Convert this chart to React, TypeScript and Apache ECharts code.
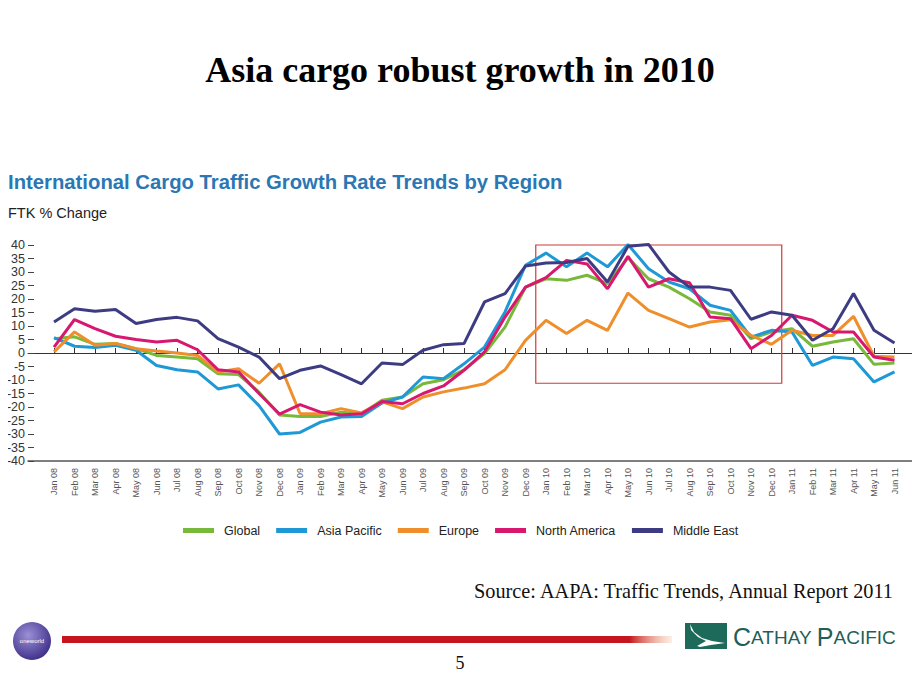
import React, { useEffect, useRef } from "react";
import * as echarts from "echarts";

const months = [
  "Jan 08", "Feb 08", "Mar 08", "Apr 08", "May 08", "Jun 08", "Jul 08", "Aug 08", "Sep 08", "Oct 08", "Nov 08", "Dec 08",
  "Jan 09", "Feb 09", "Mar 09", "Apr 09", "May 09", "Jun 09", "Jul 09", "Aug 09", "Sep 09", "Oct 09", "Nov 09", "Dec 09",
  "Jan 10", "Feb 10", "Mar 10", "Apr 10", "May 10", "Jun 10", "Jul 10", "Aug 10", "Sep 10", "Oct 10", "Nov 10", "Dec 10",
  "Jan 11", "Feb 11", "Mar 11", "Apr 11", "May 11", "Jun 11",
];

const globalValues = [
  5.3, 6.0, 3.2, 3.5, 1.6, -0.9, -1.5, -2.1, -7.7, -8.0, -14.5, -23.0,
  -23.5, -23.5, -21.9, -22.5, -17.5, -16.3, -11.4, -9.9, -6.2, -0.2, 9.6, 24.4,
  27.5, 26.9, 28.8, 25.7, 35.3, 27.5, 24.4, 20.1, 15.2, 14.0, 5.3, 7.8,
  9.0, 2.5, 4.1, 5.3, -4.2, -3.7,
];
const asiaPacific = [
  5.7, 2.5, 2.0, 2.9, 1.0, -4.6, -6.2, -7.0, -13.3, -11.8, -19.5, -30.0,
  -29.4, -25.6, -23.7, -23.5, -18.5, -16.3, -8.9, -9.5, -4.0, 2.2, 15.2, 32.5,
  37.0, 31.9, 37.0, 31.9, 40.2, 31.2, 26.3, 23.8, 17.7, 15.8, 5.9, 8.4,
  7.8, -4.6, -1.5, -2.1, -10.7, -7.0,
];
const europe = [
  0.4, 7.8, 2.9, 3.5, 1.6, 0.7, 0.0, -0.9, -7.0, -5.8, -11.2, -4.0,
  -22.4, -22.5, -20.6, -22.2, -18.1, -20.6, -16.3, -14.4, -13.0, -11.4, -6.2, 4.7,
  12.1, 7.2, 12.1, 8.4, 22.2, 15.8, 12.7, 9.6, 11.5, 12.3, 6.5, 3.2,
  8.4, 6.5, 6.5, 13.6, -1.2, -1.5,
];
const northAmerica = [
  2.2, 12.4, 9.0, 6.2, 5.0, 4.1, 4.7, 1.2, -6.2, -7.0, -15.0, -22.6,
  -19.1, -21.9, -23.0, -22.5, -18.0, -18.8, -15.0, -12.2, -6.4, 0.4, 13.3, 24.4,
  27.9, 34.3, 33.0, 23.8, 35.8, 24.4, 27.5, 26.0, 13.3, 12.7, 1.6, 6.5,
  14.0, 12.1, 7.8, 7.8, -1.5, -2.7,
];
const middleEast = [
  11.5, 16.4, 15.5, 16.1, 10.9, 12.4, 13.2, 11.9, 5.3, 2.2, -1.5, -9.5,
  -6.4, -4.8, -8.0, -11.4, -3.7, -4.3, 1.0, 3.1, 3.5, 18.9, 22.0, 32.2,
  33.3, 33.5, 35.0, 26.3, 39.5, 40.2, 30.0, 24.4, 24.4, 23.2, 12.5, 15.2,
  14.0, 4.7, 9.0, 22.0, 8.4, 3.7,
];

const seriesNames = ["Global", "Asia Pacific", "Europe", "North America", "Middle East"];
const seriesColors = ["#78b83a", "#1f98d6", "#ee8f2c", "#d8186f", "#3d3c82"];
const seriesValues = [globalValues, asiaPacific, europe, northAmerica, middleEast];

// highlighted year 2010 (month index range and value range of the red frame)
const highlightMonths = [23.5, 35.5];
const highlightValues = [45.5, -11.2];

const yTicks = { min: -40, max: 40, step: 5 };

const SANS = "'Liberation Sans', Arial, Helvetica, sans-serif";
const SERIF = "'Liberation Serif', 'Times New Roman', serif";

export default function App() {
  const ref = useRef<HTMLDivElement>(null);

  useEffect(() => {
    if (!ref.current) return;
    const chart = echarts.init(ref.current, null, { renderer: "svg" });
    const idx = months.map((_, i) => i);

    const series: any[] = seriesNames.map((name, k) => ({
      type: "line",
      name,
      data: seriesValues[k].map((v, i) => [i, v]),
      xAxisIndex: 0,
      symbol: "none",
      silent: true,
      clip: false,
      lineStyle: { width: 3, color: seriesColors[k] },
      itemStyle: { color: seriesColors[k] },
      emphasis: { disabled: true },
      z: 3 + k,
    }));
    series[0].markArea = {
      silent: true,
      itemStyle: { color: "rgba(0,0,0,0)", borderColor: "#d03a3a", borderWidth: 1.2 },
      data: [
        [
          { xAxis: highlightMonths[0], yAxis: highlightValues[0] },
          { xAxis: highlightMonths[1], yAxis: highlightValues[1] },
        ],
      ],
    };

    const option: any = {
      animation: false,
      backgroundColor: "#ffffff",
      grid: { left: 28, right: 5, top: 245, bottom: 229, containLabel: false },
      xAxis: [
        {
          type: "value",
          min: -1.27,
          max: 42,
          position: "bottom",
          axisLine: { onZero: false, lineStyle: { color: "#555", width: 1.5 } },
          axisTick: { show: false },
          splitLine: { show: false },
          axisLabel: {
            customValues: idx,
            formatter: (v: number) => months[Math.round(v)] ?? "",
            rotate: 90,
            fontSize: 9,
            color: "#555",
            margin: 7,
            fontFamily: SANS,
          },
        },
        {
          type: "value",
          min: -1.27,
          max: 42,
          position: "bottom",
          axisLine: { onZero: true, lineStyle: { color: "#333", width: 1 } },
          axisTick: { show: true, inside: true, length: 5, customValues: idx, lineStyle: { color: "#333" } },
          axisLabel: { show: false },
          splitLine: { show: false },
        },
      ],
      yAxis: {
        type: "value",
        min: yTicks.min,
        max: yTicks.max,
        interval: yTicks.step,
        position: "left",
        axisLine: { show: false, onZero: false },
        axisTick: { show: true, inside: true, length: 6, lineStyle: { color: "#444" } },
        axisLabel: { fontSize: 12.5, color: "#333", margin: 3, fontFamily: SANS },
        splitLine: { show: false },
      },
      legend: {
        data: seriesNames,
        left: 183,
        top: 524,
        padding: 0,
        icon: "rect",
        itemWidth: 31,
        itemHeight: 5,
        itemGap: 16,
        textStyle: { fontSize: 12.5, color: "#222", fontFamily: SANS, padding: [0, 0, 0, 5] },
      },
      graphic: [
        {
          type: "text",
          x: 460,
          y: 70,
          style: {
            text: "Asia cargo robust growth in 2010",
            font: `bold 36px ${SERIF}`,
            fill: "#000",
            align: "center",
            verticalAlign: "middle",
            textAlign: "center",
            textVerticalAlign: "middle",
          },
        },
        {
          type: "text",
          x: 8,
          y: 182,
          style: {
            text: "International Cargo Traffic Growth Rate Trends by Region",
            font: `bold 20.3px ${SANS}`,
            fill: "#2a77b4",
            align: "left",
            verticalAlign: "middle",
            textAlign: "left",
            textVerticalAlign: "middle",
          },
        },
        {
          type: "text",
          x: 8,
          y: 213,
          style: {
            text: "FTK % Change",
            font: `14.5px ${SANS}`,
            fill: "#222",
            align: "left",
            verticalAlign: "middle",
            textAlign: "left",
            textVerticalAlign: "middle",
          },
        },
        {
          type: "text",
          x: 893,
          y: 591,
          style: {
            text: "Source: AAPA: Traffic Trends, Annual Report 2011",
            font: `20.3px ${SERIF}`,
            fill: "#111",
            align: "right",
            verticalAlign: "middle",
            textAlign: "right",
            textVerticalAlign: "middle",
          },
        },
        // footer red bar
        {
          type: "rect",
          shape: { x: 62, y: 636, width: 610, height: 7 },
          style: {
            fill: {
              type: "linear",
              x: 0, y: 0, x2: 1, y2: 0,
              colorStops: [
                { offset: 0, color: "#c4161c" },
                { offset: 0.93, color: "#c4161c" },
                { offset: 1, color: "rgba(240,170,120,0.2)" },
              ],
            },
          },
        },
        // oneworld logo
        {
          type: "circle",
          shape: { cx: 32, cy: 641, r: 19 },
          style: {
            fill: {
              type: "radial",
              x: 0.4, y: 0.35, r: 0.7,
              colorStops: [
                { offset: 0, color: "#9c90d6" },
                { offset: 1, color: "#3b2c86" },
              ],
            },
          },
        },
        {
          type: "text",
          x: 32,
          y: 641,
          style: {
            text: "oneworld",
            font: `6px ${SANS}`,
            fill: "#fff",
            align: "center",
            verticalAlign: "middle",
            textAlign: "center",
            textVerticalAlign: "middle",
          },
        },
        // Cathay Pacific logo
        {
          type: "rect",
          shape: { x: 685, y: 623, width: 42, height: 26 },
          style: { fill: "#1d6a5b" },
        },
        {
          type: "polygon",
          shape: {
            points: [
              [690, 624], [694, 632], [702, 638], [712, 641], [725, 643],
              [711, 645], [700, 647], [697, 646], [706, 641], [698, 637], [691, 630],
            ],
          },
          style: { fill: "#ffffff" },
        },
        {
          type: "text",
          x: 733,
          y: 637,
          style: {
            text: "{b|C}{s|ATHAY }{b|P}{s|ACIFIC}",
            rich: {
              b: { fontSize: 25, fontFamily: SANS, fill: "#1f5e59", color: "#1f5e59" },
              s: { fontSize: 19, fontFamily: SANS, fill: "#1f5e59", color: "#1f5e59" },
            },
            align: "left",
            verticalAlign: "middle",
            textAlign: "left",
            textVerticalAlign: "middle",
          },
        },
        {
          type: "text",
          x: 460,
          y: 663,
          style: {
            text: "5",
            font: `18px ${SERIF}`,
            fill: "#111",
            align: "center",
            verticalAlign: "middle",
            textAlign: "center",
            textVerticalAlign: "middle",
          },
        },
      ],
      series,
    };

    chart.setOption(option);
    return () => chart.dispose();
  }, []);

  return <div ref={ref} style={{ width: 920, height: 690, margin: -8 }} />;
}
